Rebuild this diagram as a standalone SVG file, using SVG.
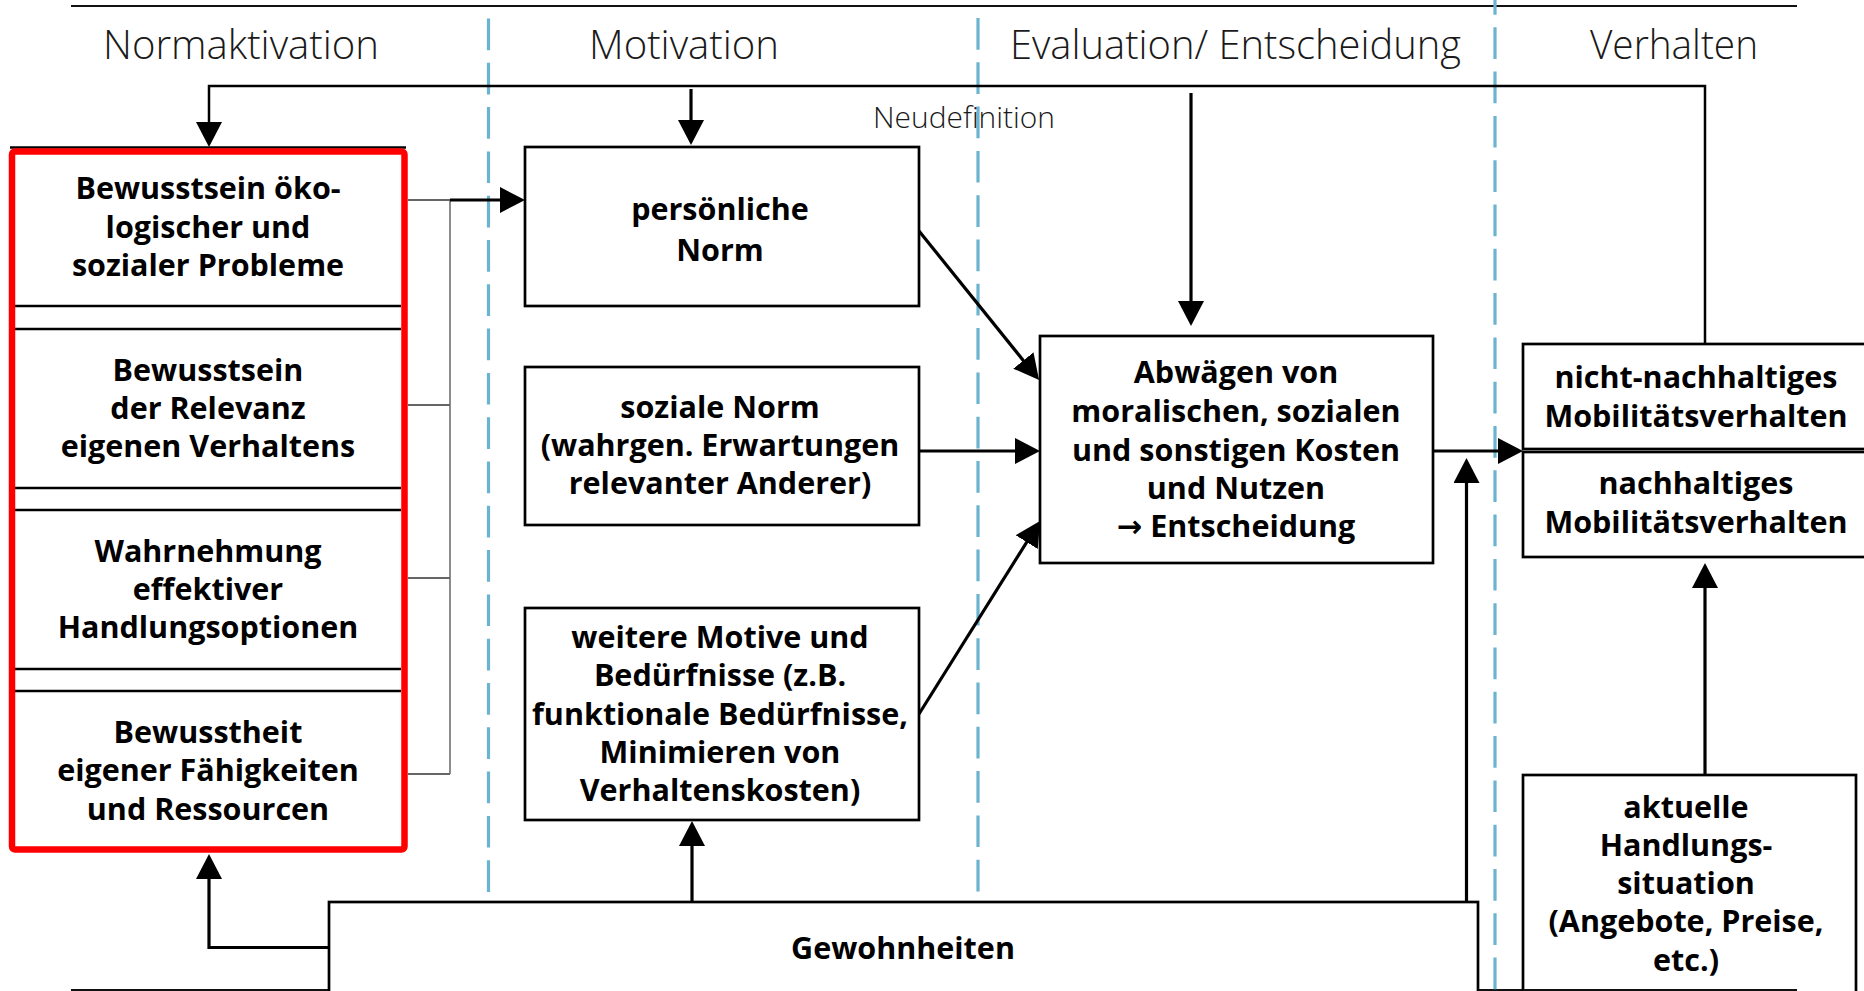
<svg xmlns="http://www.w3.org/2000/svg" width="1864" height="991" viewBox="0 0 1864 991">
<style>
.hdr{font-family:"Open Sans","Liberation Sans",sans-serif;font-weight:300;font-size:40px;fill:#1a1a1a;text-anchor:middle}
.small{font-size:29px}
.lbl{font-family:"Open Sans","DejaVu Sans",sans-serif;font-weight:700;font-size:30.5px;fill:#000;text-anchor:middle}
.box{fill:#fff;stroke:#000;stroke-width:2.7}
.frame{stroke:#111;stroke-width:2;fill:none}
.phase{stroke:#6cb3d1;stroke-width:3.2;stroke-dasharray:31.7 12.6;fill:none}
.conn{fill:none;stroke:#000;stroke-width:3.2;marker-end:url(#ah)}
.thin{fill:none;stroke:#333;stroke-width:1.5}
.sep{stroke:#000;stroke-width:2.7}
</style>
<defs>
<marker id="ah" markerUnits="userSpaceOnUse" markerWidth="25" markerHeight="26" viewBox="0 0 25 26" refX="5" refY="13" orient="auto">
<path d="M0,0 L25,13 L0,26 z" fill="#000"/>
</marker>
</defs>
<rect x="0" y="0" width="1864" height="991" fill="#fff"/>
<g id="frame">
<line class="frame" x1="71" y1="6" x2="1797" y2="6"/>
<line class="frame" x1="71" y1="990" x2="329" y2="990"/>
<line class="frame" x1="1478" y1="990" x2="1797" y2="990"/>
</g>
<g id="phases">
<line class="phase" x1="488.5" y1="18.5" x2="488.5" y2="902"/>
<line class="phase" x1="978" y1="18" x2="978" y2="902"/>
<line class="phase" x1="1495" y1="-17" x2="1495" y2="991"/>
</g>
<g id="headers">
<text class="hdr" x="241" y="59" textLength="276" lengthAdjust="spacingAndGlyphs">Normaktivation</text>
<text class="hdr" x="684" y="59" textLength="190" lengthAdjust="spacingAndGlyphs">Motivation</text>
<text class="hdr" x="1235.5" y="59" textLength="451" lengthAdjust="spacingAndGlyphs">Evaluation/ Entscheidung</text>
<text class="hdr" x="1674" y="59" textLength="168" lengthAdjust="spacingAndGlyphs">Verhalten</text>
</g>
<g id="connectors">
<path d="M1705,344 V86 H209 V127" fill="none" stroke="#000" stroke-width="2.5" marker-end="url(#ah)"/>
<text class="hdr small" x="964" y="128" textLength="182" lengthAdjust="spacingAndGlyphs">Neudefinition</text>
<path class="conn" d="M691,89 V125"/>
<path class="conn" d="M1191,93 V306"/>
<path class="thin" d="M408,200 H450 M408,405 H450 M408,578 H450 M408,774 H450"/>
<path d="M450,200 V774" fill="none" stroke="#666" stroke-width="1.5"/>
<path class="conn" d="M450,200 H505" stroke-width="3.7"/>
<path class="conn" d="M919,231 L1026.5,364.4"/>
<path class="conn" d="M919,451 H1020"/>
<path class="conn" d="M919,714 L1029.4,537.9"/>
<path class="conn" d="M1433,451 H1503"/>
<path class="conn" d="M1466.5,902 V478"/>
<path class="conn" d="M692,902 V841"/>
<path class="conn" d="M329,947.5 H209 V874"/>
<path class="conn" d="M1705,775 V583"/>
</g>
<g id="normaktivation">
<line x1="10" y1="147.5" x2="406" y2="147.5" stroke="#000" stroke-width="2.5"/>
<line class="sep" x1="15" y1="306" x2="401" y2="306"/>
<line class="sep" x1="15" y1="329" x2="401" y2="329"/>
<line class="sep" x1="15" y1="488" x2="401" y2="488"/>
<line class="sep" x1="15" y1="510" x2="401" y2="510"/>
<line class="sep" x1="15" y1="669" x2="401" y2="669"/>
<line class="sep" x1="15" y1="691" x2="401" y2="691"/>
<rect x="12" y="151.5" width="392.5" height="698" rx="3" fill="none" stroke="#ff0000" stroke-width="6.5"/>
<g id="bewusstsein-probleme">
<text class="lbl" x="208" y="199">Bewusstsein öko-</text>
<text class="lbl" x="208" y="237.5">logischer und</text>
<text class="lbl" x="208" y="276">sozialer Probleme</text>
</g>
<g id="bewusstsein-relevanz">
<text class="lbl" x="208" y="381">Bewusstsein</text>
<text class="lbl" x="208" y="419">der Relevanz</text>
<text class="lbl" x="208" y="457">eigenen Verhaltens</text>
</g>
<g id="wahrnehmung">
<text class="lbl" x="208" y="561.5">Wahrnehmung</text>
<text class="lbl" x="208" y="600">effektiver</text>
<text class="lbl" x="208" y="638">Handlungsoptionen</text>
</g>
<g id="bewusstheit">
<text class="lbl" x="208" y="743">Bewusstheit</text>
<text class="lbl" x="208" y="781">eigener Fähigkeiten</text>
<text class="lbl" x="208" y="820">und Ressourcen</text>
</g>
</g>
<g id="persoenliche-norm">
<rect class="box" x="525" y="147" width="394" height="159"/>
<text class="lbl" x="720" y="220">persönliche</text>
<text class="lbl" x="720" y="261">Norm</text>
</g>
<g id="soziale-norm">
<rect class="box" x="525" y="367" width="394" height="158"/>
<text class="lbl" x="720" y="418">soziale Norm</text>
<text class="lbl" x="720" y="456">(wahrgen. Erwartungen</text>
<text class="lbl" x="720" y="494">relevanter Anderer)</text>
</g>
<g id="weitere-motive">
<rect class="box" x="525" y="608" width="394" height="212"/>
<text class="lbl" x="720" y="648">weitere Motive und</text>
<text class="lbl" x="720" y="686">Bedürfnisse (z.B.</text>
<text class="lbl" x="720" y="724.5">funktionale Bedürfnisse,</text>
<text class="lbl" x="720" y="763">Minimieren von</text>
<text class="lbl" x="720" y="801">Verhaltenskosten)</text>
</g>
<g id="abwaegen">
<rect class="box" x="1040" y="336" width="393" height="227"/>
<text class="lbl" x="1236" y="383">Abwägen von</text>
<text class="lbl" x="1236" y="422">moralischen, sozialen</text>
<text class="lbl" x="1236" y="461">und sonstigen Kosten</text>
<text class="lbl" x="1236" y="499">und Nutzen</text>
<text class="lbl" x="1236" y="537">→ Entscheidung</text>
</g>
<g id="nicht-nachhaltig">
<rect class="box" x="1523" y="344" width="360" height="105"/>
<text class="lbl" x="1696" y="388">nicht-nachhaltiges</text>
<text class="lbl" x="1696" y="426.5">Mobilitätsverhalten</text>
</g>
<g id="nachhaltig">
<rect class="box" x="1523" y="452" width="360" height="105"/>
<text class="lbl" x="1696" y="494">nachhaltiges</text>
<text class="lbl" x="1696" y="533">Mobilitätsverhalten</text>
</g>
<g id="handlungssituation">
<rect class="box" x="1523" y="775" width="333" height="230"/>
<line class="frame" x1="1523" y1="990" x2="1797" y2="990"/>
<text class="lbl" x="1686" y="817.5">aktuelle</text>
<text class="lbl" x="1686" y="855.8">Handlungs-</text>
<text class="lbl" x="1686" y="894">situation</text>
<text class="lbl" x="1686" y="932.2">(Angebote, Preise,</text>
<text class="lbl" x="1686" y="970.5">etc.)</text>
</g>
<g id="gewohnheiten">
<rect class="box" x="329" y="902" width="1149" height="110"/>
<text class="lbl" x="903" y="959">Gewohnheiten</text>
</g>
</svg>
